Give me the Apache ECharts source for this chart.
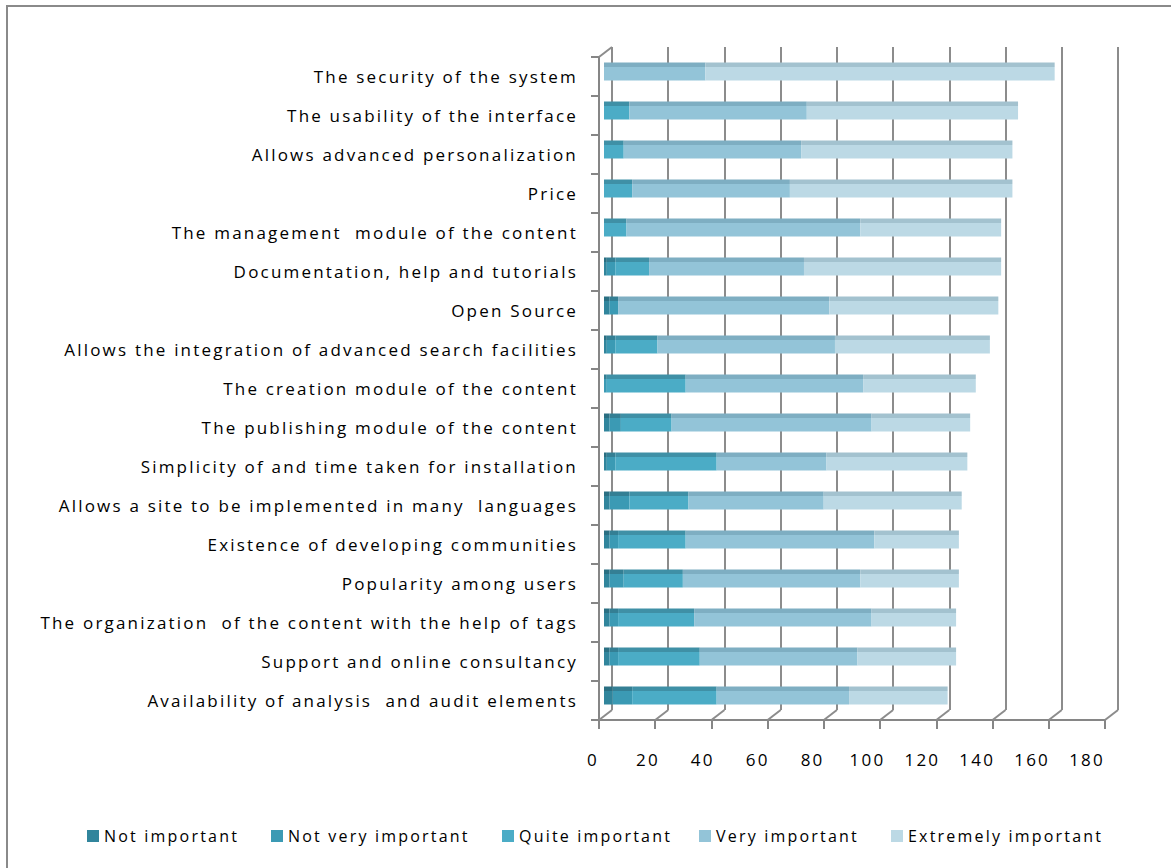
<!DOCTYPE html>
<html>
<head>
<meta charset="utf-8">
<script src="https://cdn.jsdelivr.net/npm/echarts@6/dist/echarts.min.js"></script>
<style>
html,body{margin:0;padding:0;background:#fff;}
#chart{width:1171px;height:868px;}
#chart svg text{letter-spacing:2.2px;}
</style>
</head>
<body>
<div id="chart"></div>
<script>
const categories = [
  "The security of the system",
  "The usability of the interface",
  "Allows advanced personalization",
  "Price",
  "The management  module of the content",
  "Documentation, help and tutorials",
  "Open Source",
  "Allows the integration of advanced search facilities",
  "The creation module of the content",
  "The publishing module of the content",
  "Simplicity of and time taken for installation",
  "Allows a site to be implemented in many  languages",
  "Existence of developing communities",
  "Popularity among users",
  "The organization  of the content with the help of tags",
  "Support and online consultancy",
  "Availability of analysis  and audit elements"
];
const seriesNames = ["Not important", "Not very important", "Quite important", "Very important", "Extremely important"];
const notImportant     = [0, 0, 0, 0, 0, 1, 2, 1, 0, 2, 1, 2, 2, 2, 2, 2, 3];
const notVeryImportant = [0, 0, 0, 0, 0, 3, 3, 3, 1, 4, 3, 7, 3, 5, 3, 3, 7];
const quiteImportant   = [0, 9, 7, 10, 8, 12, 0, 15, 28, 18, 36, 21, 24, 21, 27, 29, 30];
const veryImportant    = [36, 63, 63, 56, 83, 55, 75, 63, 63, 71, 39, 48, 67, 63, 63, 56, 47];
const extremelyImportant = [124, 75, 75, 79, 50, 70, 60, 55, 40, 35, 50, 49, 30, 35, 30, 35, 35];
const xTicks = [0, 20, 40, 60, 80, 100, 120, 140, 160, 180];

const colors = ["#31859c", "#3b9ab4", "#4bacc6", "#93c4d8", "#bcd9e5"];
const topColors = ["#2a6f82", "#347f94", "#3f90a6", "#7eaec2", "#a3c2cf"];

const FONT = "Open Sans";
const FRONT  = {left: 599, top: 57, width: 506, height: 663};
const BACK   = {left: 612, top: 47, width: 506, height: 663};
const BARS   = {left: 604, top: 52, width: 507, height: 663};
const XLABEL = {left: 593, top: 57, width: 494, height: 663};
const legendLefts = [82, 266, 497, 694, 886];

const allData = [notImportant, notVeryImportant, quiteImportant, veryImportant, extremelyImportant];

const chart = echarts.init(document.getElementById('chart'), null, {renderer: 'svg'});

const series = seriesNames.map((name, i) => ({
  name: name,
  type: 'bar',
  stack: 'total',
  xAxisIndex: 2,
  yAxisIndex: 2,
  barWidth: 18,
  data: allData[i],
  itemStyle: {
    color: {
      type: 'linear', x: 0, y: 0, x2: 0, y2: 1,
      colorStops: [
        {offset: 0, color: topColors[i]},
        {offset: 0.26, color: topColors[i]},
        {offset: 0.27, color: colors[i]},
        {offset: 1, color: colors[i]}
      ]
    }
  },
  emphasis: {disabled: true}
}));
series.push({type: 'bar', xAxisIndex: 0, yAxisIndex: 0, data: [], silent: true});
series.push({type: 'bar', xAxisIndex: 3, yAxisIndex: 3, data: [], silent: true});

const legends = seriesNames.map((n, i) => ({
  data: [{name: n, itemStyle: {color: colors[i]}}],
  left: legendLefts[i],
  top: 823,
  itemWidth: 12,
  itemHeight: 12,
  icon: 'rect',
  textStyle: {fontFamily: FONT, fontSize: 16, color: '#000'},
  selectedMode: false
}));

chart.setOption({
  animation: false,
  backgroundColor: '#fff',
  grid: [
    Object.assign({}, FRONT),
    Object.assign({}, BACK),
    Object.assign({}, BARS),
    Object.assign({}, XLABEL)
  ],
  legend: legends,
  xAxis: [
    {
      gridIndex: 0, type: 'value', min: 0, max: 180, interval: 20,
      axisLine: {show: true, lineStyle: {color: '#868686', width: 2}},
      axisTick: {show: true, length: 9, lineStyle: {color: '#868686', width: 2}},
      axisLabel: {show: false},
      splitLine: {show: false}
    },
    {
      gridIndex: 1, type: 'value', min: 0, max: 180, interval: 20,
      axisLine: {show: false}, axisTick: {show: false}, axisLabel: {show: false},
      splitLine: {show: true, lineStyle: {color: '#8c8c8c', width: 2}}
    },
    {
      gridIndex: 2, type: 'value', min: 0, max: 180, interval: 20, show: false,
      splitLine: {show: false}
    },
    {
      gridIndex: 3, type: 'value', min: 0, max: 180, interval: 20,
      axisLine: {show: false}, axisTick: {show: false},
      axisLabel: {fontFamily: FONT, fontSize: 17, color: '#000', margin: 31},
      splitLine: {show: false}
    }
  ],
  yAxis: [
    {
      gridIndex: 0, type: 'category', inverse: true, data: categories,
      axisLine: {show: true, lineStyle: {color: '#868686', width: 2}},
      axisTick: {show: true, length: 8, lineStyle: {color: '#868686', width: 2}},
      axisLabel: {fontFamily: FONT, fontSize: 17, color: '#000', margin: 21, padding: [4, 0, 0, 0]}
    },
    {gridIndex: 1, type: 'category', inverse: true, data: categories, show: false},
    {gridIndex: 2, type: 'category', inverse: true, data: categories, show: false},
    {gridIndex: 3, type: 'category', inverse: true, data: categories, show: false}
  ],
  series: series
});

const graphics = [{
  type: 'rect', shape: {x: 7, y: 6, width: 1200, height: 900},
  style: {fill: 'none', stroke: '#8a8a8a', lineWidth: 2}, silent: true, z: 0
}];
const backBottom = BACK.top + BACK.height;
const frontBottom = FRONT.top + FRONT.height;
xTicks.forEach(v => {
  const xb = chart.convertToPixel({xAxisIndex: 1}, v);
  const xf = chart.convertToPixel({xAxisIndex: 0}, v);
  graphics.push({
    type: 'line', shape: {x1: xb, y1: backBottom, x2: xf, y2: frontBottom},
    style: {stroke: '#8c8c8c', lineWidth: 2}, silent: true, z: 1
  });
});
const xb0 = chart.convertToPixel({xAxisIndex: 1}, 0);
const xf0 = chart.convertToPixel({xAxisIndex: 0}, 0);
graphics.push({
  type: 'line', shape: {x1: xb0, y1: BACK.top, x2: xf0, y2: FRONT.top},
  style: {stroke: '#8c8c8c', lineWidth: 2}, silent: true, z: 1
});
chart.setOption({graphic: graphics});
</script>
</body>
</html>
